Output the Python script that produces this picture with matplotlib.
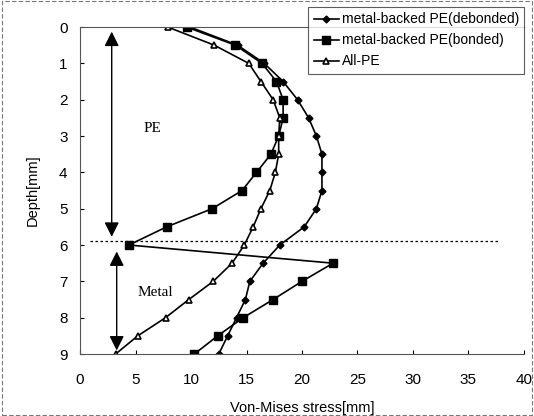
import matplotlib.pyplot as plt
from matplotlib.patches import Rectangle

plt.rcParams['font.family'] = ['Liberation Sans', 'DejaVu Sans']

# depth positions (mm)
depth = [0, 0.5, 1, 1.5, 2, 2.5, 3, 3.5, 4, 4.5, 5, 5.5, 6, 6.5, 7, 7.5, 8, 8.5, 9]

# von-mises stress
debonded = [9.9, 14.2, 16.6, 18.3, 19.6, 20.6, 21.3, 21.8, 21.8, 21.8, 21.3,
            20.2, 18.0, 16.5, 15.3, 14.9, 14.1, 13.3, 12.5]
bonded = [9.6, 14.0, 16.4, 17.7, 18.3, 18.3, 17.9, 17.2, 15.9, 14.6, 11.9,
          7.8, 4.4, 22.8, 20.0, 17.4, 14.7, 12.4, 10.3]
all_pe = [7.9, 12.1, 15.2, 16.3, 17.4, 18.0, 17.9, 17.9, 17.6, 17.1, 16.3,
          15.6, 14.8, 13.7, 12.0, 9.8, 7.7, 5.2, 3.2]

labels = ['metal-backed PE(debonded)', 'metal-backed PE(bonded)', 'All-PE']

fig = plt.figure(figsize=(5.34, 4.16), dpi=100)
ax = fig.add_axes([0.150, 0.149, 0.831, 0.786])

l1, = ax.plot(debonded, depth, color='black', lw=1.2, marker='D', ms=3.5)
l2, = ax.plot(bonded, depth, color='black', lw=1.2, marker='s', ms=6)
l3, = ax.plot(all_pe, depth, color='black', lw=1.2, marker='^', ms=5,
              markerfacecolor='white', markeredgewidth=1.2)

ax.set_xlim(0, 40)
ax.set_ylim(9, 0)
ax.set_xticks(range(0, 41, 5))
ax.set_yticks(range(0, 10))
ax.tick_params(direction='in', length=3, labelsize=11, colors='black')
ax.tick_params(axis='x', pad=14)
ax.tick_params(axis='y', pad=9)
for s in ax.spines.values():
    s.set_color('#555555')
    s.set_linewidth(0.8)
ax.spines['right'].set_visible(False)

ax.set_xlabel('Von-Mises stress[mm]', fontsize=10.5, labelpad=10)
ax.set_ylabel('Depth[mm]', fontsize=10.5, labelpad=14)

# boundary between PE and metal
ax.plot([0.9, 37.8], [5.9, 5.9], color='black', lw=0.9, ls=(0, (2, 2)))

# region arrows
ax.annotate('', xy=(2.85, 0.05), xytext=(2.85, 5.85),
            arrowprops=dict(arrowstyle='<|-|>', color='black', lw=1.0,
                            mutation_scale=22))
ax.annotate('', xy=(3.3, 6.1), xytext=(3.3, 8.98),
            arrowprops=dict(arrowstyle='<|-|>', color='black', lw=1.0,
                            mutation_scale=22))
ax.text(6.5, 2.8, 'PE', fontsize=11, family='Liberation Serif', ha='center', va='center')
ax.text(6.8, 7.3, 'Metal', fontsize=11, family='Liberation Serif', ha='center', va='center')

leg = fig.legend([l1, l2, l3], labels, loc='upper right',
                 bbox_to_anchor=(0.995, 1.0), fontsize=10, frameon=True,
                 fancybox=False, edgecolor='#333333', handlelength=1.8,
                 borderpad=0.4, labelspacing=0.5, handletextpad=0.2)
leg.get_frame().set_linewidth(0.8)

# outer border of the figure
fig.patches.append(Rectangle((0.003, 0.003), 0.994, 0.994, transform=fig.transFigure,
                             fill=False, edgecolor='#777777', lw=0.8, ls=(0, (4, 2))))

plt.savefig('out.png', dpi=100)
